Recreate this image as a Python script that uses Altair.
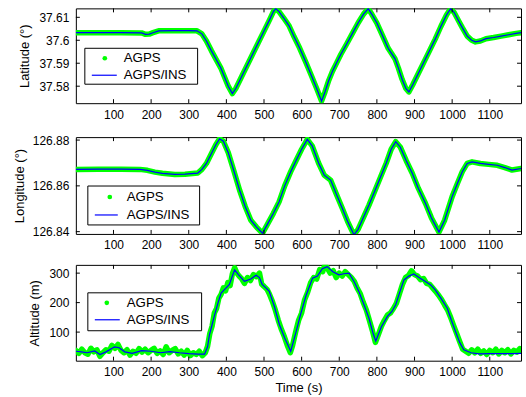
import altair as alt
import pandas as pd

# ---- Latitude (deg), AGPS/INS solution ----
lat_t = [0, 60, 120, 175, 185, 195, 205, 220, 260, 300, 322, 335, 347, 360, 373, 385, 395, 405, 416,
         425, 440, 455, 470, 485, 500, 515, 525, 531, 540, 552, 567, 580, 595, 611, 625, 640, 653,
         662, 672, 682, 694, 704, 720, 735, 750, 765, 777, 787, 800, 815, 830, 840, 848, 857, 867,
         877, 885, 895, 910, 925, 940, 955, 970, 985, 996, 1005, 1017, 1027, 1040, 1052, 1062, 1075,
         1090, 1110, 1130, 1150, 1170, 1183]
lat_v = [37.6033, 37.6033, 37.6033, 37.6032, 37.6026, 37.6027, 37.6033, 37.6041, 37.6042, 37.6042,
         37.6041, 37.6028, 37.5997, 37.5955, 37.5916, 37.5880, 37.5840, 37.5800, 37.5768,
         37.5790, 37.5840, 37.5890, 37.5940, 37.5990, 37.6040, 37.6090, 37.6125, 37.6138, 37.6125,
         37.6098, 37.6062, 37.6015, 37.5965, 37.5905, 37.5850, 37.5790, 37.5735,
         37.5775, 37.5825, 37.5865, 37.5905, 37.5938, 37.5985, 37.6030, 37.6075, 37.6115, 37.6138,
         37.6112, 37.6075, 37.6020, 37.5965, 37.5940, 37.5920, 37.5880, 37.5830,
         37.5790, 37.5775, 37.5805, 37.5855, 37.5905, 37.5955, 37.6005, 37.6060, 37.6110, 37.6138,
         37.6122, 37.6085, 37.6055, 37.6018, 37.6000, 37.5993, 37.5997,
         37.6007, 37.6012, 37.6018, 37.6024, 37.6030, 37.6033]

# ---- Longitude (deg), AGPS/INS solution ----
lon_t = [0, 60, 120, 170, 190, 210, 230, 263, 290, 324, 335, 347, 360, 372, 382, 392, 405, 420, 435,
         450, 465, 480, 496, 510, 525, 540, 555, 571, 585, 600, 615, 628, 645, 660, 677, 692, 708,
         722, 739, 750, 765, 779, 795, 810, 825, 838, 850, 862, 878, 894, 910, 929, 945, 965, 980,
         1000, 1015, 1027, 1040, 1053, 1075, 1097, 1120, 1140, 1159, 1183]
lon_v = [126.8672, 126.8673, 126.8673, 126.8672, 126.8668, 126.8660, 126.8655, 126.8650, 126.8651,
         126.8656, 126.8672, 126.8698, 126.8740, 126.8780, 126.8806, 126.8795, 126.8745, 126.8665,
         126.8582, 126.8510, 126.8450, 126.8420, 126.8393, 126.8435, 126.8480, 126.8530, 126.8600,
         126.8662, 126.8710, 126.8760, 126.8803, 126.8775, 126.8700, 126.8647, 126.8625, 126.8565,
         126.8502, 126.8445, 126.8386, 126.8410, 126.8465, 126.8516, 126.8580, 126.8640, 126.8700,
         126.8760, 126.8793, 126.8770, 126.8710, 126.8655, 126.8590, 126.8524, 126.8460, 126.8398,
         126.8450, 126.8553, 126.8615, 126.8662, 126.8698, 126.8705, 126.8698, 126.8694, 126.8690,
         126.8680, 126.8669, 126.8676]

# ---- Altitude (m), AGPS/INS solution ----
alt_t = [0, 15, 30, 50, 64, 80, 103, 115, 130, 150, 175, 200, 225, 250, 275, 300, 325, 342, 350, 355,
         362, 369, 378, 386, 398, 408, 416, 422, 432, 448, 465, 479, 488, 495, 505, 514, 528, 541,
         555, 571, 584, 597, 612, 629, 642, 655, 668, 683, 699, 712, 726, 740, 752, 765, 779, 790,
         797, 812, 828, 840, 850, 862, 872, 885, 898, 915, 929, 943, 955, 970, 987, 998, 1009, 1020,
         1031, 1050, 1071, 1100, 1130, 1160, 1183]
alt_v = [35, 33, 30, 36, 24, 33, 50, 47, 33, 28, 37, 35, 30, 34, 30, 27, 25, 25, 50, 91,
         125, 159, 200, 232, 248, 262, 290, 311, 295, 272, 280, 293, 285, 262, 250, 238, 185, 125,
         80, 35, 95, 159, 225, 283, 290, 315, 322, 305, 294, 298, 300, 270, 238, 195, 147, 95,
         70, 118, 153, 170, 193, 240, 277, 290, 297, 283, 272, 260, 243, 215, 181, 140, 102, 65,
         40, 30, 26, 27, 27, 27, 28]

# ---- Altitude (m), AGPS only (noisier) ----
agps_alt_t = [0, 8, 16, 24, 32, 40, 48, 56, 64, 72, 80, 88, 96, 104, 112, 120, 128, 136, 144, 152,
              160, 168, 176, 184, 192, 200, 208, 216, 224, 232, 240, 248, 256, 264, 272, 280, 288,
              296, 304, 312, 320, 328, 336, 344, 350, 356, 362, 368, 374, 380, 386, 392, 398, 404,
              410, 416, 422, 428, 434, 440, 448, 456, 464, 472, 480, 488, 494, 500, 508, 514, 522,
              530, 538, 546, 554, 562, 570, 576, 584, 592, 600, 608, 616, 624, 632, 640, 648, 656,
              662, 668, 676, 684, 692, 700, 708, 716, 724, 732, 740, 748, 756, 764, 772, 780, 788,
              796, 804, 812, 820, 828, 836, 844, 852, 860, 868, 876, 884, 892, 900, 908, 916, 924,
              932, 940, 948, 956, 964, 972, 980, 988, 996, 1004, 1012, 1020, 1028, 1036, 1044, 1052,
              1060, 1068, 1076, 1084, 1092, 1100, 1108, 1116, 1124, 1132, 1140, 1148, 1156, 1164,
              1172, 1180, 1183]
agps_alt_v = [38, 28, 42, 30, 25, 45, 33, 40, 18, 30, 40, 35, 55, 45, 58, 38, 30, 40, 22, 35,
              28, 44, 32, 42, 30, 38, 45, 28, 36, 24, 50, 30, 38, 44, 26, 35, 22,
              38, 20, 30, 24, 35, 20, 30, 52, 95, 120, 165, 180, 215, 228, 250, 240, 268,
              258, 298, 318, 300, 290, 282, 265, 285, 275, 295, 288, 300, 262, 255, 245, 230, 205,
              175, 140, 110, 85, 55, 30, 55, 100, 140, 165, 210, 235, 268, 285, 280, 312, 305,
              330, 318, 300, 308, 285, 300, 290, 305, 295, 285, 272, 248, 230, 200, 175, 140, 105,
              65, 92, 120, 140, 158, 165, 180, 198, 230, 262, 285, 292, 308, 295, 290, 278, 282,
              265, 262, 250, 238, 225, 210, 192, 175, 150, 122, 95, 68, 42, 35, 28, 40,
              30, 42, 28, 36, 24, 38, 30, 42, 26, 38, 30, 40, 26, 38,
              32, 44, 36]

x_ticks = [100, 200, 300, 400, 500, 600, 700, 800, 900, 1000, 1100]

FONT = "Liberation Sans"
W = 446
TICK = 4
GREEN = "#00ff00"
BLUE = "#0000ff"

x_scale = alt.Scale(domain=[0, 1183], nice=False, zero=False)


def panel(ins_t, ins_v, gps_t, gps_v, ytitle, ydomain, yticks, yfmt, height, leg, xtitle=None,
          title_pad=6):
    ys = alt.Scale(domain=ydomain, nice=False, zero=False)
    ins = pd.DataFrame({"t": ins_t, "v": ins_v})
    gps = pd.DataFrame({"t": gps_t, "v": gps_v})
    xt = pd.DataFrame({"t": x_ticks})
    yt = pd.DataFrame({"v": yticks})
    one = pd.DataFrame({"k": [0]})

    axis_kw = dict(ticks=False, domain=False, grid=False, labelOverlap=False, labelFlush=False,
                   labelBound=False)
    if xtitle:
        x_axis = alt.Axis(values=x_ticks, format="d", labelPadding=6, title=xtitle,
                          titlePadding=4, **axis_kw)
    else:
        x_axis = alt.Axis(values=x_ticks, format="d", labelPadding=6, title=None, **axis_kw)
    y_axis = alt.Axis(values=yticks, format=yfmt, labelPadding=7, title=ytitle,
                      titlePadding=title_pad, **axis_kw)

    X = lambda: alt.X("t:Q", scale=x_scale, axis=x_axis)
    Y = lambda: alt.Y("v:Q", scale=ys, axis=y_axis)

    green = alt.Chart(gps).mark_line(color=GREEN, strokeWidth=5.5, strokeCap="round",
                                      strokeJoin="round", clip=True).encode(x=X(), y=Y())
    blue = alt.Chart(ins).mark_line(color=BLUE, strokeWidth=1.2, clip=True).encode(x=X(), y=Y())
    # inward ticks on all four sides of the box
    xb = alt.Chart(xt).mark_rule(color="black", strokeWidth=1).encode(
        x=X(), y=alt.value(height), y2=alt.value(height - TICK))
    xtop = alt.Chart(xt).mark_rule(color="black", strokeWidth=1).encode(
        x=X(), y=alt.value(0), y2=alt.value(TICK))
    yl = alt.Chart(yt).mark_rule(color="black", strokeWidth=1).encode(
        y=Y(), x=alt.value(0), x2=alt.value(TICK))
    yr = alt.Chart(yt).mark_rule(color="black", strokeWidth=1).encode(
        y=Y(), x=alt.value(W - TICK), x2=alt.value(W))

    # legend box
    bx0, bx1, by0, by1, dotx, doty, lx0, lx1, liney, textx = leg
    box = alt.Chart(one).mark_rect(fill="white", stroke="black", strokeWidth=1).encode(
        x=alt.value(bx0), x2=alt.value(bx1), y=alt.value(by0), y2=alt.value(by1))
    dot = alt.Chart(one).mark_point(filled=True, shape="circle", color=GREEN, size=22,
                                    opacity=1).encode(x=alt.value(dotx), y=alt.value(doty))
    lline = alt.Chart(one).mark_rule(color=BLUE, strokeWidth=1.2).encode(
        x=alt.value(lx0), x2=alt.value(lx1), y=alt.value(liney))
    t1 = alt.Chart(one).mark_text(text="AGPS", align="left", baseline="middle", font=FONT,
                                  fontSize=13.3, color="black").encode(
        x=alt.value(textx), y=alt.value(doty))
    t2 = alt.Chart(one).mark_text(text="AGPS/INS", align="left", baseline="middle", font=FONT,
                                  fontSize=13.3, color="black").encode(
        x=alt.value(textx), y=alt.value(liney))

    return alt.layer(green, blue, xb, xtop, yl, yr, box, dot, lline, t1, t2).properties(
        width=W, height=height)


p1 = panel(lat_t, lat_v, lat_t, lat_v, "Latitude (°)", [37.5726, 37.6139],
           [37.58, 37.59, 37.60, 37.61], ".2~f", 95,
           (9, 122, 40, 76, 29, 50, 16, 41, 67, 48), title_pad=7)
p2 = panel(lon_t, lon_v, lon_t, lon_v, "Longitude (°)", [126.839, 126.8813],
           [126.84, 126.86, 126.88], ".2~f", 97,
           (12, 124, 49, 88, 34, 60, 19, 42, 78, 51), title_pad=6)
p3 = panel(alt_t, alt_v, agps_alt_t, agps_alt_v, "Altitude (m)", [3, 328],
           [100, 200, 300], "d", 96,
           (12, 126, 28, 66, 31, 38, 19, 44, 55, 51), xtitle="Time (s)", title_pad=7)

chart = alt.vconcat(p1, p2, p3, spacing=12).properties(
    padding={"left": 12, "top": 7, "right": 4, "bottom": 2},
    background="white",
).configure_view(stroke="black", strokeWidth=1).configure_axis(
    labelFont=FONT, labelFontSize=12, labelColor="black",
    titleFont=FONT, titleFontSize=13, titleFontWeight="normal", titleColor="black",
)

chart.save("out.html", embed_options={"renderer": "svg", "actions": False})
